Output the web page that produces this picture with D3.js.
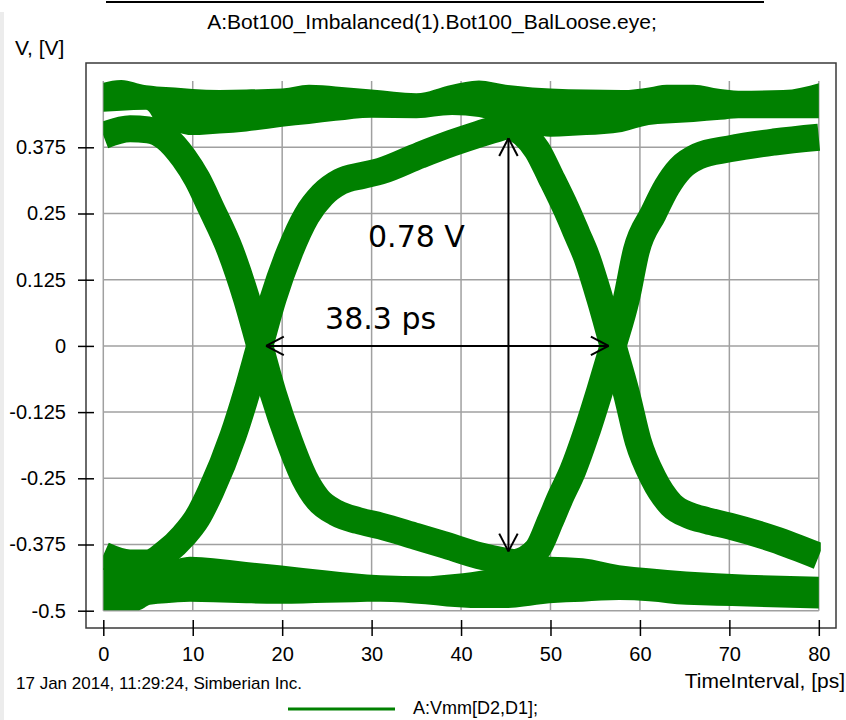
<!DOCTYPE html>
<html>
<head>
<meta charset="utf-8">
<script src="https://cdn.jsdelivr.net/npm/d3@7"></script>
<style>
  body { margin: 0; background: #fff; }
  svg { display: block; }
  text { font-family: "Liberation Sans", Arial, sans-serif; fill: #000; }
</style>
</head>
<body>
<div id="graph"></div>
<script>
// Ticks of the two axes
var xTicks = [0, 10, 20, 30, 40, 50, 60, 70, 80];
var yTicks = [0.375, 0.25, 0.125, 0, -0.125, -0.25, -0.375, -0.5];
var yTickLabels = ["0.375", "0.25", "0.125", "0", "-0.125", "-0.25", "-0.375", "-0.5"];

// Steady rails of the eye: [t ps, low V, high V]
var railHaut = [
  [0, 0.442, 0.497], [2, 0.444, 0.502], [4.8, 0.446, 0.492], [6, 0.42, 0.49],
  [8, 0.405, 0.488], [10, 0.398, 0.485], [13, 0.401, 0.483], [16, 0.405, 0.484],
  [20, 0.414, 0.486], [23, 0.419, 0.493], [26, 0.425, 0.49], [30, 0.431, 0.484],
  [35, 0.43, 0.477], [39, 0.436, 0.493], [42, 0.432, 0.501], [45, 0.415, 0.493],
  [48, 0.40, 0.488], [50, 0.395, 0.486], [54, 0.398, 0.484], [58, 0.404, 0.483],
  [61, 0.417, 0.488], [63, 0.42, 0.493], [66, 0.423, 0.493], [69, 0.427, 0.485],
  [71, 0.43, 0.482], [76, 0.43, 0.483], [80, 0.43, 0.496]
];
var railBas = [
  [0, -0.499, -0.42], [4, -0.499, -0.425], [5.2, -0.489, -0.42], [7, -0.486, -0.41],
  [9.7, -0.483, -0.398], [12.3, -0.484, -0.401], [16, -0.486, -0.408], [19.7, -0.487, -0.414],
  [25, -0.485, -0.424], [31, -0.483, -0.433], [36, -0.488, -0.435], [38.4, -0.492, -0.432],
  [42, -0.495, -0.425], [45, -0.495, -0.415], [47, -0.492, -0.405], [49.9, -0.486, -0.398],
  [53.6, -0.483, -0.401], [57.7, -0.48, -0.414], [61, -0.482, -0.42], [65.2, -0.489, -0.426],
  [72, -0.492, -0.432], [80, -0.496, -0.436]
];

// Transitions (centre of each band of traces): [t ps, V]
var descente1 = [
  [0, 0.397], [3, 0.41], [5, 0.408], [7, 0.393], [9, 0.355], [10.5, 0.315], [12, 0.262],
  [14.2, 0.18], [16, 0.09], [17.5, 0], [19, -0.09], [20.8, -0.18], [22.5, -0.25],
  [24, -0.29], [26, -0.315], [28.5, -0.33], [31, -0.34], [35, -0.36], [38, -0.375],
  [42, -0.396], [46, -0.41]
];
var montee1 = [
  [0, -0.395], [3, -0.41], [5, -0.41], [7, -0.39], [9, -0.358], [10.5, -0.325], [12, -0.275],
  [14.5, -0.17], [16, -0.09], [17.5, 0], [19, 0.09], [20.9, 0.18], [22.7, 0.245],
  [24.5, 0.285], [26.5, 0.31], [29, 0.322], [31, 0.33], [35.4, 0.36], [39, 0.383],
  [42, 0.40], [45, 0.415], [47, 0.425]
];
var descente2 = [
  [43, 0.425], [45, 0.418], [47, 0.40], [48.5, 0.37], [50, 0.32], [51.8, 0.257], [53, 0.21],
  [54, 0.17], [55.5, 0.09], [57, 0], [58.5, -0.09], [59.8, -0.18], [61.5, -0.25],
  [63.5, -0.3], [65.5, -0.32], [67.5, -0.33], [70, -0.34], [75, -0.365], [80, -0.397]
];
var montee2 = [
  [44, -0.415], [46, -0.41], [48.5, -0.385], [50, -0.33], [51, -0.29], [52.5, -0.235],
  [54, -0.165], [55.5, -0.085], [57, 0], [58.5, 0.09], [59.6, 0.18], [61.5, 0.25],
  [63, 0.30], [64.5, 0.335], [66.5, 0.358], [70, 0.372], [75, 0.385], [80, 0.394]
];

// Measurements drawn on the eye
var ouvertureT = [18.2, 56.5];      // horizontal arrow, ps
var ouvertureV = [0.392, -0.388];   // vertical arrow, V
var ouvertureTx = 45.3;
var labelV = "0.78 V", labelT = "38.3 ps";

var largeurTotale = 846, hauteurTotale = 720;
var vert = "#008000";

var x = d3.scaleLinear().domain([0, 80]).range([103.3, 818.8]);
var y = d3.scaleLinear().domain([-0.5, 0.5]).range([610.7, 81.1]);

var svg = d3.select("#graph").append("svg")
    .attr("width", largeurTotale)
    .attr("height", hauteurTotale);

// window edge and the line at the very top
svg.append("rect").attr("x", 0).attr("y", 12).attr("width", 4).attr("height", 708).attr("fill", "#ececec");
svg.append("line").attr("x1", 106).attr("x2", 764).attr("y1", 2).attr("y2", 2)
    .attr("stroke", "#000").attr("stroke-width", 2);

// Titles
svg.append("text").attr("x", 432).attr("y", 29).attr("text-anchor", "middle")
    .style("font-size", "21px").text("A:Bot100_Imbalanced(1).Bot100_BalLoose.eye;");
svg.append("text").attr("x", 15).attr("y", 55).style("font-size", "21px").text("V, [V]");
svg.append("text").attr("x", 845).attr("y", 688).attr("text-anchor", "end")
    .style("font-size", "21px").text("TimeInterval, [ps]");
svg.append("text").attr("x", 16).attr("y", 689).style("font-size", "17px")
    .text("17 Jan 2014, 11:29:24, Simberian Inc.");

// Grid
svg.append("g").selectAll("line").data(xTicks).enter().append("line")
    .attr("x1", function(d) { return x(d); }).attr("x2", function(d) { return x(d); })
    .attr("y1", y(0.5)).attr("y2", y(-0.5))
    .attr("stroke", "#a0a0a0").attr("stroke-width", 1.5);
svg.append("g").selectAll("line").data(yTicks).enter().append("line")
    .attr("x1", x(0)).attr("x2", x(80))
    .attr("y1", function(d) { return y(d); }).attr("y2", function(d) { return y(d); })
    .attr("stroke", "#a0a0a0").attr("stroke-width", 1.5);

// Frame
svg.append("rect").attr("x", 86).attr("y", 63).attr("width", 750).attr("height", 565)
    .attr("fill", "none").attr("stroke", "#3a3a3a").attr("stroke-width", 1.5);

// Axes
var axeX = d3.axisBottom(x).tickValues(xTicks).tickSize(16).tickPadding(11);
var gx = svg.append("g").attr("transform", "translate(0,620)").call(axeX);
gx.select(".domain").remove();
gx.selectAll("line").attr("stroke", "#000").attr("stroke-width", 1.5);
gx.selectAll("text").style("font-size", "20px").attr("font-family", null);

var axeY = d3.axisLeft(y).tickValues(yTicks).tickSize(16).tickPadding(12)
    .tickFormat(function(d, i) { return yTickLabels[i]; });
var gy = svg.append("g").attr("transform", "translate(94,0)").call(axeY);
gy.select(".domain").remove();
gy.selectAll("line").attr("stroke", "#000").attr("stroke-width", 1.5);
gy.selectAll("text").style("font-size", "20px").attr("font-family", null);

// Eye traces
svg.append("clipPath").attr("id", "zone").append("rect")
    .attr("x", x(0)).attr("y", y(0.5) - 2).attr("width", x(80) - x(0) + 2).attr("height", y(-0.5) - y(0.5) + 4);
var oeil = svg.append("g").attr("clip-path", "url(#zone)");

var aire = d3.area()
    .x(function(d) { return x(d[0]); })
    .y0(function(d) { return y(d[1]); })
    .y1(function(d) { return y(d[2]); })
    .curve(d3.curveMonotoneX);
var ligne = d3.line()
    .x(function(d) { return x(d[0]); })
    .y(function(d) { return y(d[1]); })
    .curve(d3.curveMonotoneX);

oeil.selectAll(".rail").data([railHaut, railBas]).enter().append("path")
    .attr("class", "rail").attr("d", aire).attr("fill", vert);
oeil.selectAll(".trans").data([descente1, montee1, descente2, montee2]).enter().append("path")
    .attr("class", "trans").attr("d", ligne)
    .attr("fill", "none").attr("stroke", vert).attr("stroke-width", 27)
    .attr("stroke-linejoin", "round");

// Arrows
function fleche(x1, y1, x2, y2) {
  var g = svg.append("g").attr("stroke", "#000").attr("stroke-width", 2).attr("fill", "none");
  g.append("line").attr("x1", x1).attr("y1", y1).attr("x2", x2).attr("y2", y2);
  [[x1, y1, x2, y2], [x2, y2, x1, y1]].forEach(function(p) {
    var a = Math.atan2(p[3] - p[1], p[2] - p[0]);
    [-0.48, 0.48].forEach(function(s) {
      g.append("line").attr("x1", p[0]).attr("y1", p[1])
        .attr("x2", p[0] + 20 * Math.cos(a + s)).attr("y2", p[1] + 20 * Math.sin(a + s));
    });
  });
}
fleche(x(ouvertureT[0]), y(0), x(ouvertureT[1]), y(0));
fleche(x(ouvertureTx), y(ouvertureV[0]), x(ouvertureTx), y(ouvertureV[1]));

svg.append("text").attr("x", x(29.6)).attr("y", y(0.187))
    .style("font-family", "'DejaVu Sans', Verdana, sans-serif").style("font-size", "30px").text(labelV);
svg.append("text").attr("x", x(24.8)).attr("y", y(0.032))
    .style("font-family", "'DejaVu Sans', Verdana, sans-serif").style("font-size", "30px").text(labelT);

// Legend
svg.append("line").attr("x1", 288).attr("x2", 395).attr("y1", 709).attr("y2", 709)
    .attr("stroke", vert).attr("stroke-width", 3);
svg.append("text").attr("x", 413).attr("y", 714).style("font-size", "18px").text("A:Vmm[D2,D1];");
</script>
</body>
</html>
